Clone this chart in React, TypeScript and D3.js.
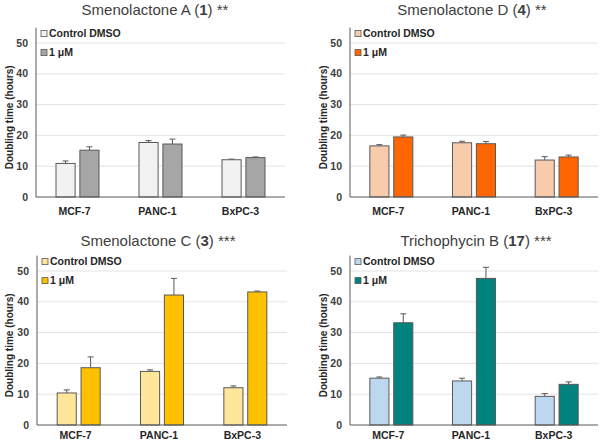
import React from 'react'
import * as d3 from 'd3'

const CELL_LINES = ['MCF-7', 'PANC-1', 'BxPC-3']
const SERIES = ['Control DMSO', '1 μM']
const Y_TICKS = [0, 10, 20, 30, 40, 50]

// Smenolactone A (1)
const A_CONTROL = [10.9, 17.7, 12.1]
const A_CONTROL_ERR = [0.8, 0.6, 0.2]
const A_TREATED = [15.2, 17.2, 12.8]
const A_TREATED_ERR = [1.1, 1.6, 0.2]

// Smenolactone D (4)
const D_CONTROL = [16.6, 17.6, 12.0]
const D_CONTROL_ERR = [0.4, 0.5, 1.1]
const D_TREATED = [19.5, 17.3, 13.0]
const D_TREATED_ERR = [0.6, 0.7, 0.6]

// Smenolactone C (3)
const C_CONTROL = [10.4, 17.4, 12.1]
const C_CONTROL_ERR = [1.0, 0.5, 0.6]
const C_TREATED = [18.6, 42.2, 43.2]
const C_TREATED_ERR = [3.5, 5.4, 0.3]

// Trichophycin B (17)
const B_CONTROL = [15.2, 14.3, 9.3]
const B_CONTROL_ERR = [0.4, 0.9, 0.9]
const B_TREATED = [33.2, 47.6, 13.2]
const B_TREATED_ERR = [2.9, 3.6, 0.8]

const FONT = 'Liberation Sans, Arial, sans-serif'

type Panel = {
  name: string
  num: string
  stars: string
  control: number[]
  controlErr: number[]
  treated: number[]
  treatedErr: number[]
  colors: string[]
  x0: number
  x1: number
  yBottom: number
  titleX: number
  titleY: number
  labelX: number
  catDy: number
}

const PANELS: Panel[] = [
  {
    name: 'Smenolactone A', num: '1', stars: '**',
    control: A_CONTROL, controlErr: A_CONTROL_ERR, treated: A_TREATED, treatedErr: A_TREATED_ERR,
    colors: ['#F2F2F2', '#A6A6A6'],
    x0: 36, x1: 285, yBottom: 197, titleX: 155, titleY: 15, labelX: 10, catDy: 18,
  },
  {
    name: 'Smenolactone D', num: '4', stars: '**',
    control: D_CONTROL, controlErr: D_CONTROL_ERR, treated: D_TREATED, treatedErr: D_TREATED_ERR,
    colors: ['#F8CBAD', '#FF6600'],
    x0: 350, x1: 598, yBottom: 197, titleX: 472, titleY: 15, labelX: 324, catDy: 18,
  },
  {
    name: 'Smenolactone C', num: '3', stars: '***',
    control: C_CONTROL, controlErr: C_CONTROL_ERR, treated: C_TREATED, treatedErr: C_TREATED_ERR,
    colors: ['#FFE699', '#FFC000'],
    x0: 37, x1: 287, yBottom: 425, titleX: 158, titleY: 246, labelX: 10, catDy: 14,
  },
  {
    name: 'Trichophycin B', num: '17', stars: '***',
    control: B_CONTROL, controlErr: B_CONTROL_ERR, treated: B_TREATED, treatedErr: B_TREATED_ERR,
    colors: ['#BDD7EE', '#00827F'],
    x0: 350, x1: 598, yBottom: 425, titleX: 476, titleY: 246, labelX: 324, catDy: 14,
  },
]

function ChartPanel({ p }: { p: Panel }) {
  const y = d3.scaleLinear().domain([0, 55]).range([p.yBottom, p.yBottom - 169.4])
  const x = d3.scaleBand().domain(CELL_LINES).range([p.x0, p.x1])
  const bw = x.bandwidth()
  const groupW = 43
  const xs = d3.scaleBand().domain(SERIES).range([(bw - groupW) / 2, (bw + groupW) / 2]).paddingInner(0.2)
  const values = [p.control, p.treated]
  const errs = [p.controlErr, p.treatedErr]
  const top = y(55)
  const midY = (y(0) + top) / 2 + 5

  return (
    <g fontFamily={FONT}>
      <text x={p.titleX} y={p.titleY} textAnchor="middle" fontSize={15} fill="#404040">
        {p.name} (<tspan fontWeight="bold">{p.num}</tspan>) {p.stars}
      </text>
      {Y_TICKS.filter((t) => t > 0).map((t) => (
        <line key={t} x1={p.x0} x2={p.x1} y1={y(t)} y2={y(t)} stroke="#E3E3E3" strokeWidth={1} />
      ))}
      {Y_TICKS.map((t) => (
        <text key={t} x={p.x0 - 8} y={y(t) + 3.5} textAnchor="end" fontSize={10.5} fontWeight="bold" fill="#404040">
          {t}
        </text>
      ))}
      <text
        transform={`translate(${p.labelX},${midY}) rotate(-90)`}
        textAnchor="middle"
        fontSize={10}
        fontWeight="bold"
        fill="#262626"
        dy={3}
      >
        Doubling time (hours)
      </text>
      {CELL_LINES.map((c, i) => (
        <g key={c} transform={`translate(${x(c)},0)`}>
          {SERIES.map((s, j) => {
            const v = values[j][i]
            const e = errs[j][i]
            const bx = xs(s)!
            const cx = bx + xs.bandwidth() / 2
            return (
              <g key={s}>
                <line x1={cx} x2={cx} y1={y(v)} y2={y(v + e)} stroke="#595959" strokeWidth={1} />
                <line x1={cx - 3} x2={cx + 3} y1={y(v + e)} y2={y(v + e)} stroke="#595959" strokeWidth={1} />
                <rect
                  x={bx}
                  y={y(v)}
                  width={xs.bandwidth()}
                  height={y(0) - y(v)}
                  fill={p.colors[j]}
                  stroke="#595959"
                  strokeWidth={1}
                />
              </g>
            )
          })}
          <text x={bw / 2 - 3} y={y(0) + p.catDy} textAnchor="middle" fontSize={10.5} fontWeight="bold" fill="#262626">
            {c}
          </text>
        </g>
      ))}
      <line x1={p.x0} x2={p.x0} y1={top} y2={y(0)} stroke="#595959" strokeWidth={1} />
      <line x1={p.x0} x2={p.x1} y1={y(0)} y2={y(0)} stroke="#595959" strokeWidth={1} />
      {SERIES.map((s, j) => (
        <g key={s} transform={`translate(${p.x0 + 5},${top + 6 + j * 19})`}>
          <rect x={0} y={-3} width={6} height={6} fill={p.colors[j]} stroke="#595959" strokeWidth={0.8} />
          <text x={8} y={3.8} fontSize={10.5} fontWeight="bold" fill="#262626">
            {s}
          </text>
        </g>
      ))}
    </g>
  )
}

export default function App() {
  return (
    <svg
      width={600}
      height={444}
      style={{ position: 'absolute', left: 0, top: 0, background: '#fff' }}
    >
      <rect width={600} height={444} fill="#fff" />
      {PANELS.map((p) => (
        <ChartPanel key={p.name} p={p} />
      ))}
    </svg>
  )
}
